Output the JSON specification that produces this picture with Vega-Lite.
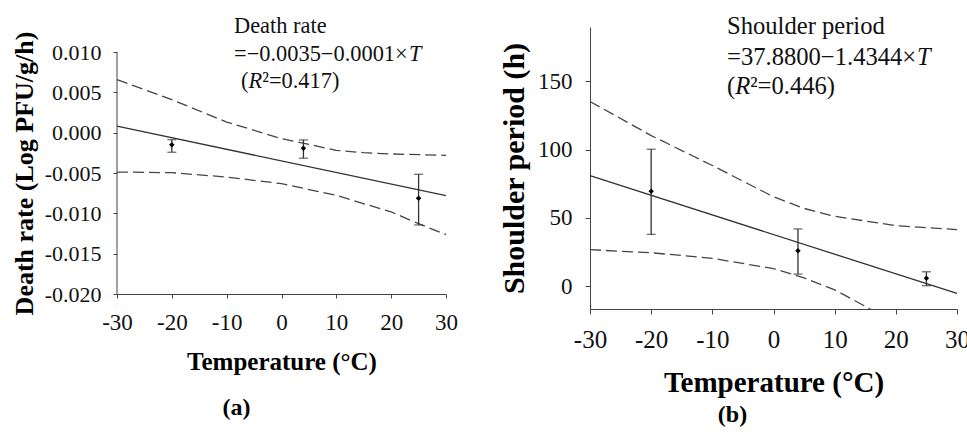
{
  "$schema": "https://vega.github.io/schema/vega-lite/v6.json",
  "background": "white",
  "padding": {"left": 11, "top": 14, "right": 0, "bottom": 0},
  "config": {"view": {"stroke": null}, "font": "Liberation Serif", "axis": {"labelFont": "Liberation Serif", "titleFont": "Liberation Serif", "labelFlush": false, "grid": false}},
  "spacing": 41,
  "datasets": {
    "a_pts": [
      {"T": -20, "v": -0.0015, "lo": -0.00243, "hi": -0.00087},
      {"T": 4, "v": -0.00193, "lo": -0.00317, "hi": -0.0009},
      {"T": 25, "v": -0.00813, "lo": -0.01144, "hi": -0.00516}
    ],
    "a_axis": [{"T": -30, "v0": -0.02, "v1": 0.01}],
    "a_fit": [{"T": -30, "v": 0.0008}, {"T": 30, "v": -0.0078}],
    "a_band": [
      {"band": "upper", "T": -30, "v": 0.00657},
      {"band": "upper", "T": -20, "v": 0.00409},
      {"band": "upper", "T": -10, "v": 0.00132},
      {"band": "upper", "T": 0, "v": -0.00074},
      {"band": "upper", "T": 5, "v": -0.00145},
      {"band": "upper", "T": 10, "v": -0.00219},
      {"band": "upper", "T": 15, "v": -0.00248},
      {"band": "upper", "T": 20, "v": -0.00264},
      {"band": "upper", "T": 30, "v": -0.00281},
      {"band": "lower", "T": -30, "v": -0.00488},
      {"band": "lower", "T": -20, "v": -0.00496},
      {"band": "lower", "T": -10, "v": -0.0055},
      {"band": "lower", "T": 0, "v": -0.00632},
      {"band": "lower", "T": 10, "v": -0.00777},
      {"band": "lower", "T": 20, "v": -0.00983},
      {"band": "lower", "T": 25, "v": -0.01128},
      {"band": "lower", "T": 30, "v": -0.01264}
    ],
    "a_txt": [
      {"T": -8.66, "v": 0.0132, "label": "Death rate"},
      {"T": -8.66, "v": 0.0097, "label": "=−0.0035−0.0001×"},
      {"T": -7.39, "v": 0.0064, "label": "("},
      {"T": -3.52, "v": 0.0064, "label": "²=0.417)"}
    ],
    "a_ital": [
      {"T": 23.25, "v": 0.0097, "label": "T"},
      {"T": -6.02, "v": 0.0064, "label": "R"}
    ],
    "b_pts": [
      {"T": -20, "v": 69.5, "lo": 38.0, "hi": 100.2},
      {"T": 4, "v": 26.1, "lo": 9.0, "hi": 42.0},
      {"T": 25, "v": 5.9, "lo": 0.5, "hi": 10.7}
    ],
    "b_fit": [{"T": -30, "v": 80.91}, {"T": 30, "v": -5.15}],
    "b_band": [
      {"band": "upper", "T": -30, "v": 135.1},
      {"band": "upper", "T": -20, "v": 110.2},
      {"band": "upper", "T": -10, "v": 88.3},
      {"band": "upper", "T": 0, "v": 65.5},
      {"band": "upper", "T": 5, "v": 57.0},
      {"band": "upper", "T": 10, "v": 51.2},
      {"band": "upper", "T": 20, "v": 44.4},
      {"band": "upper", "T": 30, "v": 41.5},
      {"band": "lower", "T": -30, "v": 26.8},
      {"band": "lower", "T": -20, "v": 24.6},
      {"band": "lower", "T": -10, "v": 20.5},
      {"band": "lower", "T": 0, "v": 13.0},
      {"band": "lower", "T": 5, "v": 6.2},
      {"band": "lower", "T": 10, "v": -2.5},
      {"band": "lower", "T": 15, "v": -14.5},
      {"band": "lower", "T": 15.8, "v": -16.5}
    ],
    "b_txt": [
      {"T": -7.6, "v": 189.2, "label": "Shoulder period"},
      {"T": -7.6, "v": 166.6, "label": "=37.8800−1.4344×"},
      {"T": -7.6, "v": 145.8, "label": "("},
      {"T": -3.81, "v": 145.8, "label": "²=0.446)"}
    ],
    "b_ital": [
      {"T": 23.46, "v": 166.6, "label": "T"},
      {"T": -6.26, "v": 145.8, "label": "R"}
    ]
  },
  "hconcat": [
    {
      "width": 329,
      "height": 267,
      "title": {"text": "(a)", "orient": "bottom", "anchor": "middle", "dx": -45, "offset": 22, "fontSize": 24, "font": "Liberation Serif", "fontWeight": "bold", "color": "#000"},
      "layer": [
        {
          "data": {"name": "a_band"},
          "mark": {"type": "line", "color": "#444", "strokeWidth": 1.3, "strokeDash": [11, 5]},
          "encoding": {
            "x": {"field": "T", "type": "quantitative", "title": "Temperature (°C)", "scale": {"domain": [-30, 30], "nice": false},
              "axis": {"values": [-30, -20, -10, 0, 10, 20, 30], "labelExpr": "replace(datum.label, '−', '-')", "labelFlush": false, "grid": false, "domainColor": "#444", "tickColor": "#444", "tickSize": 4, "labelPadding": 13, "labelFont": "Liberation Serif", "labelFontSize": 23, "labelColor": "#111", "titleFont": "Liberation Serif", "titleFontSize": 25, "titleFontWeight": "bold", "titleColor": "#000", "titlePadding": 15}},
            "y": {"field": "v", "type": "quantitative", "title": "Death rate (Log PFU/g/h)", "scale": {"domain": [-0.02, 0.0131], "nice": false, "zero": false},
              "axis": {"values": [-0.02, -0.015, -0.01, -0.005, 0, 0.005, 0.01], "format": ".3f", "labelExpr": "replace(datum.label, '−', '-')", "labelFlush": false, "domain": false, "grid": false, "tickColor": "#444", "tickSize": 4, "labelPadding": 12, "labelFont": "Liberation Serif", "labelFontSize": 22, "labelColor": "#111", "titleFont": "Liberation Serif", "titleFontSize": 26, "titleFontWeight": "bold", "titleColor": "#000", "titlePadding": 7, "titleY": 146}},
            "detail": {"field": "band"}
          }
        },
        {
          "data": {"name": "a_axis"},
          "mark": {"type": "rule", "color": "#444", "strokeWidth": 1},
          "encoding": {
            "x": {"field": "T", "type": "quantitative", "title": "Temperature (°C)", "scale": {"domain": [-30, 30], "nice": false}},
            "y": {"field": "v0", "type": "quantitative", "title": "Death rate (Log PFU/g/h)", "scale": {"domain": [-0.02, 0.0131], "nice": false, "zero": false}},
            "y2": {"field": "v1"}
          }
        },
        {
          "data": {"name": "a_fit"},
          "mark": {"type": "line", "color": "#333", "strokeWidth": 1.3},
          "encoding": {
            "x": {"field": "T", "type": "quantitative", "title": "Temperature (°C)", "scale": {"domain": [-30, 30], "nice": false}},
            "y": {"field": "v", "type": "quantitative", "title": "Death rate (Log PFU/g/h)", "scale": {"domain": [-0.02, 0.0131], "nice": false, "zero": false}}
          }
        },
        {
          "data": {"name": "a_pts"},
          "mark": {"type": "errorbar", "ticks": {"size": 9}, "color": "#333", "thickness": 1.3},
          "encoding": {
            "x": {"field": "T", "type": "quantitative", "title": "Temperature (°C)", "scale": {"domain": [-30, 30], "nice": false}},
            "y": {"field": "lo", "type": "quantitative", "title": "Death rate (Log PFU/g/h)", "scale": {"domain": [-0.02, 0.0131], "nice": false, "zero": false}},
            "y2": {"field": "hi"}
          }
        },
        {
          "data": {"name": "a_pts"},
          "mark": {"type": "point", "shape": "diamond", "filled": true, "color": "#000", "size": 30, "opacity": 1},
          "encoding": {
            "x": {"field": "T", "type": "quantitative", "title": "Temperature (°C)", "scale": {"domain": [-30, 30], "nice": false}},
            "y": {"field": "v", "type": "quantitative", "title": "Death rate (Log PFU/g/h)", "scale": {"domain": [-0.02, 0.0131], "nice": false, "zero": false}}
          }
        },
        {
          "data": {"name": "a_txt"},
          "mark": {"type": "text", "align": "left", "baseline": "middle", "font": "Liberation Serif", "fontSize": 22.4, "color": "#111"},
          "encoding": {
            "x": {"field": "T", "type": "quantitative", "title": "Temperature (°C)", "scale": {"domain": [-30, 30], "nice": false}},
            "y": {"field": "v", "type": "quantitative", "title": "Death rate (Log PFU/g/h)", "scale": {"domain": [-0.02, 0.0131], "nice": false, "zero": false}},
            "text": {"field": "label"}
          }
        },
        {
          "data": {"name": "a_ital"},
          "mark": {"type": "text", "align": "left", "baseline": "middle", "font": "Liberation Serif", "fontSize": 22.4, "fontStyle": "italic", "color": "#111"},
          "encoding": {
            "x": {"field": "T", "type": "quantitative", "title": "Temperature (°C)", "scale": {"domain": [-30, 30], "nice": false}},
            "y": {"field": "v", "type": "quantitative", "title": "Death rate (Log PFU/g/h)", "scale": {"domain": [-0.02, 0.0131], "nice": false, "zero": false}},
            "text": {"field": "label"}
          }
        }
      ]
    },
    {
      "width": 367,
      "height": 282,
      "title": {"text": "(b)", "orient": "bottom", "anchor": "middle", "dx": -41, "offset": 6, "fontSize": 24, "font": "Liberation Serif", "fontWeight": "bold", "color": "#000"},
      "layer": [
        {
          "data": {"name": "b_band"},
          "mark": {"type": "line", "color": "#444", "strokeWidth": 1.3, "strokeDash": [11, 5]},
          "encoding": {
            "x": {"field": "T", "type": "quantitative", "title": "Temperature (°C)", "scale": {"domain": [-30, 30], "nice": false},
              "axis": {"values": [-30, -20, -10, 0, 10, 20, 30], "labelExpr": "replace(datum.label, '−', '-')", "labelFlush": false, "grid": false, "domainColor": "#444", "tickColor": "#444", "tickSize": 5, "labelPadding": 13, "labelFont": "Liberation Serif", "labelFontSize": 25, "labelColor": "#111", "titleFont": "Liberation Serif", "titleFontSize": 29, "titleFontWeight": "bold", "titleColor": "#000", "titlePadding": 16}},
            "y": {"field": "v", "type": "quantitative", "title": "Shoulder period (h)", "scale": {"domain": [-16.5, 189.5], "nice": false, "zero": false},
              "axis": {"values": [0, 50, 100, 150], "labelFlush": false, "grid": false, "domainColor": "#444", "tickColor": "#444", "tickSize": 5, "labelPadding": 13, "labelFont": "Liberation Serif", "labelFontSize": 23, "labelColor": "#111", "titleFont": "Liberation Serif", "titleFontSize": 30, "titleFontWeight": "bold", "titleColor": "#000", "titlePadding": 8}},
            "detail": {"field": "band"}
          }
        },
        {
          "data": {"name": "b_fit"},
          "mark": {"type": "line", "color": "#333", "strokeWidth": 1.3},
          "encoding": {
            "x": {"field": "T", "type": "quantitative", "title": "Temperature (°C)", "scale": {"domain": [-30, 30], "nice": false}},
            "y": {"field": "v", "type": "quantitative", "title": "Shoulder period (h)", "scale": {"domain": [-16.5, 189.5], "nice": false, "zero": false}}
          }
        },
        {
          "data": {"name": "b_pts"},
          "mark": {"type": "errorbar", "ticks": {"size": 9}, "color": "#333", "thickness": 1.3},
          "encoding": {
            "x": {"field": "T", "type": "quantitative", "title": "Temperature (°C)", "scale": {"domain": [-30, 30], "nice": false}},
            "y": {"field": "lo", "type": "quantitative", "title": "Shoulder period (h)", "scale": {"domain": [-16.5, 189.5], "nice": false, "zero": false}},
            "y2": {"field": "hi"}
          }
        },
        {
          "data": {"name": "b_pts"},
          "mark": {"type": "point", "shape": "diamond", "filled": true, "color": "#000", "size": 30, "opacity": 1},
          "encoding": {
            "x": {"field": "T", "type": "quantitative", "title": "Temperature (°C)", "scale": {"domain": [-30, 30], "nice": false}},
            "y": {"field": "v", "type": "quantitative", "title": "Shoulder period (h)", "scale": {"domain": [-16.5, 189.5], "nice": false, "zero": false}}
          }
        },
        {
          "data": {"name": "b_txt"},
          "mark": {"type": "text", "align": "left", "baseline": "middle", "font": "Liberation Serif", "fontSize": 24.6, "color": "#111"},
          "encoding": {
            "x": {"field": "T", "type": "quantitative", "title": "Temperature (°C)", "scale": {"domain": [-30, 30], "nice": false}},
            "y": {"field": "v", "type": "quantitative", "title": "Shoulder period (h)", "scale": {"domain": [-16.5, 189.5], "nice": false, "zero": false}},
            "text": {"field": "label"}
          }
        },
        {
          "data": {"name": "b_ital"},
          "mark": {"type": "text", "align": "left", "baseline": "middle", "font": "Liberation Serif", "fontSize": 24.6, "fontStyle": "italic", "color": "#111"},
          "encoding": {
            "x": {"field": "T", "type": "quantitative", "title": "Temperature (°C)", "scale": {"domain": [-30, 30], "nice": false}},
            "y": {"field": "v", "type": "quantitative", "title": "Shoulder period (h)", "scale": {"domain": [-16.5, 189.5], "nice": false, "zero": false}},
            "text": {"field": "label"}
          }
        }
      ]
    }
  ]
}
